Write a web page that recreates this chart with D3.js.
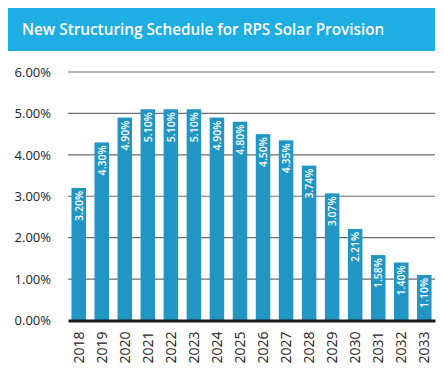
<!DOCTYPE html>
<html>
<head>
<meta charset="utf-8">
<script src="https://cdn.jsdelivr.net/npm/d3@7"></script>
<style>
  body { margin: 0; background: #fff; }
  svg { display: block; font-family: "Open Sans", "DejaVu Sans", sans-serif; }
</style>
</head>
<body>
<svg id="svg" width="444" height="381"></svg>
<script>
// data
var years = ["2018", "2019", "2020", "2021", "2022", "2023", "2024", "2025",
  "2026", "2027", "2028", "2029", "2030", "2031", "2032", "2033"];
var rates = [3.20, 4.30, 4.90, 5.10, 5.10, 5.10, 4.90, 4.80,
  4.50, 4.35, 3.74, 3.07, 2.21, 1.58, 1.40, 1.10];
var yTicks = [0, 1, 2, 3, 4, 5, 6];
var title = "New Structuring Schedule for RPS Solar Provision";

var svg = d3.select("#svg");

// title banner
svg.append("rect")
  .attr("x", 8).attr("y", 8)
  .attr("width", 427).attr("height", 43)
  .attr("fill", "#1eaee3");
svg.append("text")
  .attr("x", 22).attr("y", 35)
  .attr("fill", "#fff")
  .attr("font-size", 15.3)
  .attr("font-weight", 600)
  .text(title);

var margin = { left: 68, right: 9, top: 72, bottom: 60 };
var width = 444 - margin.left - margin.right,
  height = 381 - margin.top - margin.bottom;

var g = svg.append("g").attr("transform", "translate(" + margin.left + "," + margin.top + ")");

var x = d3.scaleBand()
  .domain(years)
  .range([0, width])
  .paddingInner(0.37)
  .paddingOuter(0.15);

var y = d3.scaleLinear()
  .domain([0, 6])
  .range([height - 0.5, 0]);

// grid lines
g.append("g")
  .selectAll("line")
  .data(yTicks.slice(1))
  .enter().append("line")
  .attr("x1", 0).attr("x2", width)
  .attr("y1", d => y(d)).attr("y2", d => y(d))
  .attr("stroke", "#6d6d6d")
  .attr("stroke-width", 1.2);

// y labels
var yAxis = g.append("g")
  .call(d3.axisLeft(y).tickValues(yTicks).tickSize(0).tickPadding(17)
    .tickFormat(d => d.toFixed(2) + "%"));
yAxis.select(".domain").remove();
yAxis.selectAll("text")
  .attr("font-size", 13)
  .attr("fill", "#222")
  .attr("font-family", "\"Open Sans\", sans-serif");

// bars
g.selectAll(".bar")
  .data(rates)
  .enter().append("rect")
  .attr("class", "bar")
  .attr("x", (d, i) => x(years[i]))
  .attr("y", d => y(d))
  .attr("width", x.bandwidth())
  .attr("height", d => y(0) - y(d))
  .attr("fill", "#2196c4");

// value labels inside bars
g.selectAll(".val")
  .data(rates)
  .enter().append("text")
  .attr("class", "val")
  .attr("transform", (d, i) => "translate(" + (x(years[i]) + x.bandwidth() / 2 + 4) + "," + (y(d) + 3) + ")rotate(-90)")
  .attr("text-anchor", "end")
  .attr("fill", "#fff")
  .attr("font-size", 10.5)
  .attr("font-weight", 600)
  .text(d => d.toFixed(2) + "%");

// x axis
var xAxis = g.append("g")
  .attr("transform", "translate(0," + y(0) + ")")
  .call(d3.axisBottom(x).tickSize(0).tickPadding(0));
xAxis.select(".domain")
  .attr("stroke", "#1a1a1a")
  .attr("stroke-width", 3);
xAxis.selectAll("text")
  .attr("font-size", 14)
  .attr("fill", "#222")
  .attr("font-family", "\"Open Sans\", sans-serif")
  .attr("text-anchor", "end")
  .attr("dy", null)
  .attr("transform", "translate(5,11)rotate(-90)");
</script>
</body>
</html>
